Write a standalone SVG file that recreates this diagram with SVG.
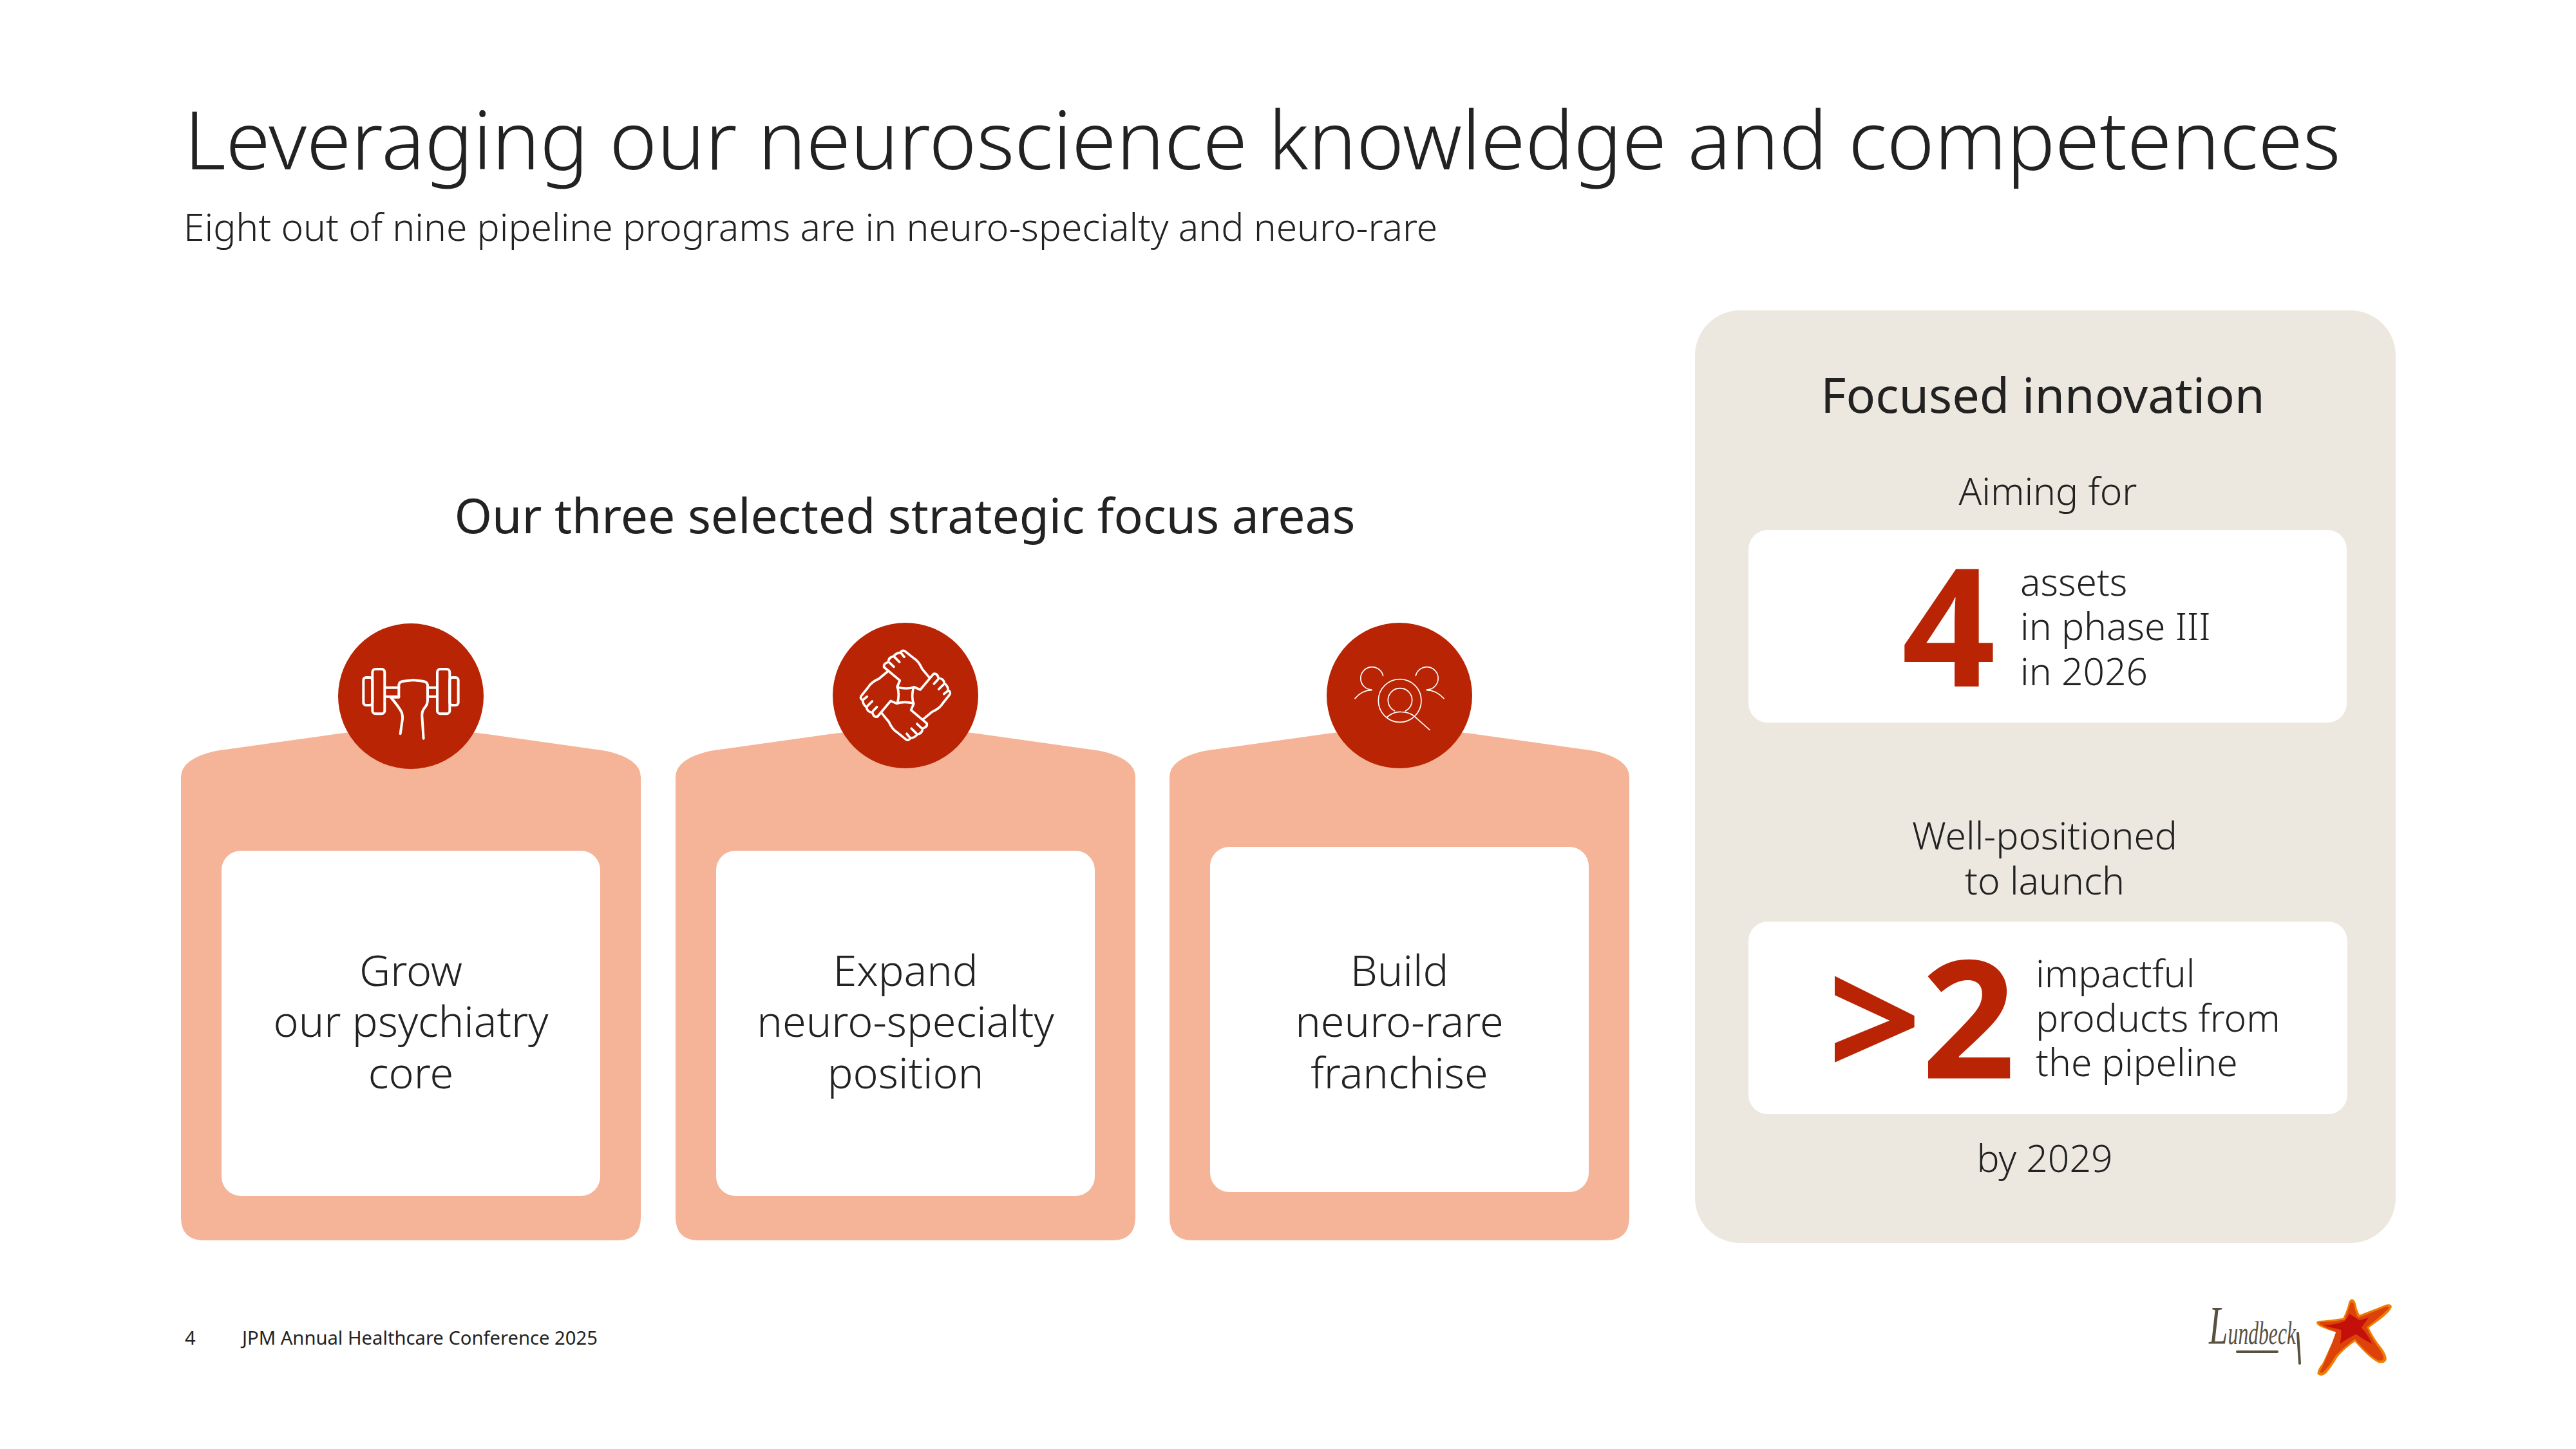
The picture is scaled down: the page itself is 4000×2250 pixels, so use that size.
<svg xmlns="http://www.w3.org/2000/svg" xmlns:xlink="http://www.w3.org/1999/xlink" width="4000" height="2250" viewBox="0 0 4000 2250">
<style>
text{font-family:"Noto Sans","Open Sans","Liberation Sans",sans-serif;fill:#222;font-weight:300}
.c{text-anchor:middle}
.card{font-size:66.5px}
.side{font-size:58.7px}
.h{font-weight:400}
.big{font-weight:700;fill:#b92504}
.peach{fill:#f5b497}
.white{fill:#fff}
.disc{fill:#b92504}
.ic{fill:none;stroke:#fff;stroke-linecap:round;stroke-linejoin:round}
</style>
<defs>
<path id="tab" d="M281,1207Q281,1178 335,1166L520,1140Q638,1124 756,1140L941,1166Q995,1178 995,1207V1890Q995,1926 959,1926H317Q281,1926 281,1890Z"/>
<g id="hand">
<path d="M578,365L545,325Q530,290 505,275L465,243Q452,236 445,250Q425,250 412,268Q390,270 388,295Q365,300 368,318L442,380L430,408Q442,445 430,487"/>
<path d="M395,298L414,316M418,272L440,294M446,250L462,270"/>
</g>
</defs>
<rect width="4000" height="2250" fill="#fff"/>
<text x="286" y="263" font-size="125.4">Leveraging our neuroscience knowledge and competences</text>
<text x="285" y="374" font-size="58.7">Eight out of nine pipeline programs are in neuro-specialty and neuro-rare</text>
<text class="c h" x="1405" y="828" font-size="75">Our three selected strategic focus areas</text>

<g id="focus-grow">
<use xlink:href="#tab" class="peach"/>
<rect class="white" x="344" y="1321" width="588" height="536" rx="30"/>
<circle class="disc" cx="638" cy="1081" r="113"/>
<g transform="translate(480,930) scale(.3333)" class="ic" stroke-width="12">
<rect x="253" y="366" width="42" height="129" rx="12"/><rect x="295" y="327" width="57" height="208" rx="14"/>
<rect x="597" y="327" width="58" height="208" rx="14"/><rect x="655" y="366" width="40" height="129" rx="12"/>
<path d="M355,413H418M355,455H418M555,413H595M555,455H595"/>
<path d="M380,458H418V400Q420,385 440,383L485,378L530,383Q550,386 552,400V470Q552,490 540,505Q525,520 526,545L533,650"/>
<path d="M380,458Q420,505 432,530Q436,545 435,560L425,628"/>
</g>
<text class="c card"><tspan x="638" y="1531">Grow</tspan><tspan x="638" y="1610">our psychiatry</tspan><tspan x="638" y="1690">core</tspan></text>
</g>

<g id="focus-expand">
<use xlink:href="#tab" class="peach" x="768"/>
<rect class="white" x="1112" y="1321" width="588" height="536" rx="30"/>
<circle class="disc" cx="1406" cy="1080" r="113"/>
<g transform="translate(1250,930) scale(.3333)" class="ic" stroke-width="11">
<use xlink:href="#hand"/>
<use xlink:href="#hand" transform="rotate(90 468 449)"/>
<use xlink:href="#hand" transform="rotate(180 468 449)"/>
<use xlink:href="#hand" transform="rotate(270 468 449)"/>
</g>
<text class="c card"><tspan x="1406" y="1531">Expand</tspan><tspan x="1406" y="1610">neuro-specialty</tspan><tspan x="1406" y="1690">position</tspan></text>
</g>

<g id="focus-build">
<use xlink:href="#tab" class="peach" x="1535"/>
<rect class="white" x="1879" y="1315" width="588" height="536" rx="30"/>
<circle class="disc" cx="2173" cy="1080" r="113"/>
<g transform="translate(2020,930) scale(.3333)" class="ic" stroke-width="5">
<path d="M383,358A53,53 0 1 0 330,423M330,425Q285,425 252,464"/>
<path d="M535,358A53,53 0 1 1 586,423M586,425Q630,425 666,464"/>
<circle cx="461" cy="474" r="100"/>
<path d="M437,522A56,56 0 1 1 487,522"/>
<path d="M400,552Q430,525 465,526Q505,526 530,548L600,610"/>
</g>
<text class="c card"><tspan x="2173" y="1531">Build</tspan><tspan x="2173" y="1610">neuro-rare</tspan><tspan x="2173" y="1690">franchise</tspan></text>
</g>

<g id="innovation-panel">
<rect x="2632" y="482" width="1088" height="1448" rx="70" fill="#ece8df"/>
<text class="c h" x="3172" y="641" font-size="75.5">Focused innovation</text>
<text class="c side" x="3180" y="784">Aiming for</text>
<rect class="white" x="2715" y="823" width="929" height="299" rx="30"/>
<text class="big" x="2953" y="1066" font-size="255">4</text>
<text class="side"><tspan x="3137" y="925">assets</tspan><tspan x="3137" y="994">in phase III</tspan><tspan x="3137" y="1064">in 2026</tspan></text>
<text class="c side"><tspan x="3175" y="1319">Well-positioned</tspan><tspan x="3175" y="1389">to launch</tspan></text>
<rect class="white" x="2715" y="1431" width="930" height="299" rx="30"/>
<text class="big" x="2838" y="1675" font-size="255">&gt;2</text>
<text class="side"><tspan x="3161" y="1533">impactful</tspan><tspan x="3161" y="1602">products from</tspan><tspan x="3161" y="1671">the pipeline</tspan></text>
<text class="c side" x="3175" y="1820">by 2029</text>
</g>

<g id="footer">
<text x="287" y="2088" font-size="29.2" style="font-weight:400">4</text>
<text x="376" y="2088" font-size="29.2" style="font-weight:400">JPM Annual Healthcare Conference 2025</text>
</g>

<g id="logo">
<text x="3430" y="2087" font-size="50" textLength="135" lengthAdjust="spacingAndGlyphs" style="font-family:'Liberation Serif',serif;font-style:italic;font-weight:400;fill:#5a5040"><tspan font-size="84">L</tspan>undbeck</text>
<path d="M3474,2099L3536,2099M3568,2070L3571,2117" fill="none" stroke="#5a5040" stroke-width="4" stroke-linecap="round"/>
<g transform="translate(3400,1990) scale(.3333)">
<path fill="#f07d00" d="M757,82Q772,85 776,112Q782,140 792,155Q860,130 915,107Q940,102 942,118Q935,140 890,175Q860,198 835,215Q855,260 895,310Q920,345 917,365Q905,385 880,378Q840,360 770,280Q725,310 690,350Q660,400 635,428Q610,447 595,430Q595,410 620,380Q650,310 690,238Q640,225 605,208Q580,190 600,183Q650,180 715,170Q735,130 742,95Q748,82 757,82Z"/>
<path fill="#dc420a" d="M757,95Q766,100 768,120Q775,150 785,168Q860,140 915,117Q930,114 928,125Q900,155 825,212Q845,262 885,315Q908,350 903,362Q892,372 875,365Q835,345 770,268Q720,305 680,345Q650,395 625,420Q610,430 607,420Q635,370 682,235Q640,220 605,198Q600,190 620,188Q670,188 722,178Q740,130 750,100Z"/>
<path fill="#c40f0a" d="M745,150Q775,170 790,180Q820,175 835,165Q815,195 800,215Q830,245 850,290Q810,270 775,245Q735,265 700,290Q710,250 705,225Q665,215 625,205Q680,200 720,185Q735,170 745,150Z"/>
</g>
</g>
</svg>
